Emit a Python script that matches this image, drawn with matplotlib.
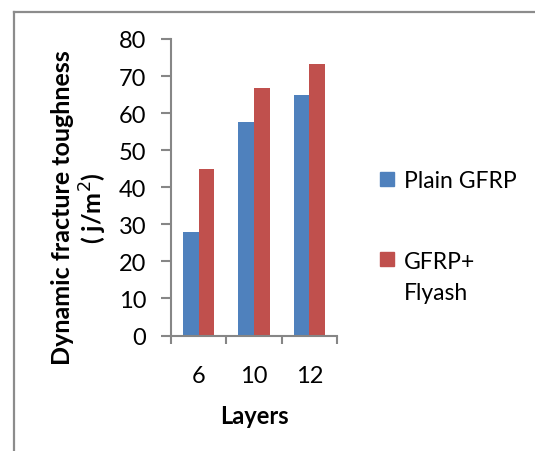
import matplotlib
matplotlib.use("Agg")
import matplotlib.pyplot as plt
from matplotlib.patches import Rectangle
import numpy as np

plt.rcParams['font.family'] = ['Lato', 'DejaVu Sans']

categories = ["6", "10", "12"]
plain_gfrp = [28.0, 57.5, 65.0]
gfrp_flyash = [44.8, 66.8, 73.2]
series_names = ["Plain GFRP", "GFRP+\nFlyash"]
yticks = [0, 10, 20, 30, 40, 50, 60, 70, 80]

W, H = 535, 452
fig = plt.figure(figsize=(W / 100, H / 100), dpi=100)

# outer chart border (cropped on right/bottom)
fig.add_artist(plt.Line2D([14 / W, 14 / W], [0, 1 - 12.5 / H], transform=fig.transFigure,
                          color="#8c8c8c", lw=1.6))
fig.add_artist(plt.Line2D([14 / W, 1], [1 - 12.5 / H, 1 - 12.5 / H], transform=fig.transFigure,
                          color="#8c8c8c", lw=1.6))

ax = fig.add_axes([171 / W, 1 - 336.5 / H, (337 - 171) / W, (336.5 - 40) / H])
x = np.arange(len(categories))
bw = 0.286
blue = "#4F81BD"
red = "#C0504D"
ax.bar(x - bw / 2, plain_gfrp, bw, color=blue, label=series_names[0])
ax.bar(x + bw / 2, gfrp_flyash, bw, color=red, label=series_names[1])

ax.set_xlim(-0.5, len(categories) - 0.5)
ax.set_ylim(0, 80)
ax.set_yticks(yticks)
ax.set_yticklabels([str(v) for v in yticks], fontsize=17)
ax.set_xticks(x)
ax.set_xticklabels(categories, fontsize=17)
ax.set_xticks(np.arange(len(categories) + 1) - 0.5, minor=True)
ax.tick_params(axis='x', which='major', length=0, pad=21)
ax.tick_params(axis='x', which='minor', length=6, width=1.5, color="#868686", direction='out')
ax.tick_params(axis='y', length=7.2, width=1.5, color="#868686", pad=10.5)

for s in ['top', 'right']:
    ax.spines[s].set_visible(False)
for s in ['left', 'bottom']:
    ax.spines[s].set_color("#868686")
    ax.spines[s].set_linewidth(1.5)

ax.set_xlabel("Layers", fontsize=17, fontweight='bold', labelpad=13.5)
fig.text(80 / W, 1 - 208 / H, "Dynamic fracture toughness\n( j/m$^2$)", rotation=90,
         ha='center', va='center', fontsize=18, fontweight='bold', multialignment='center',
         linespacing=1.15)

# legend
fig.add_artist(Rectangle((380 / W, 1 - 187 / H), 14 / W, 14 / H, transform=fig.transFigure,
                         color=blue))
fig.add_artist(Rectangle((380 / W, 1 - 267 / H), 14 / W, 14 / H, transform=fig.transFigure,
                         color=red))
fig.text(404 / W, 1 - 181 / H, series_names[0], fontsize=16.5, va='center', ha='left')
fig.text(404 / W, 1 - 252 / H, series_names[1], fontsize=16.5, va='top', ha='left',
         linespacing=1.6)

fig.savefig("out.png", dpi=100)
